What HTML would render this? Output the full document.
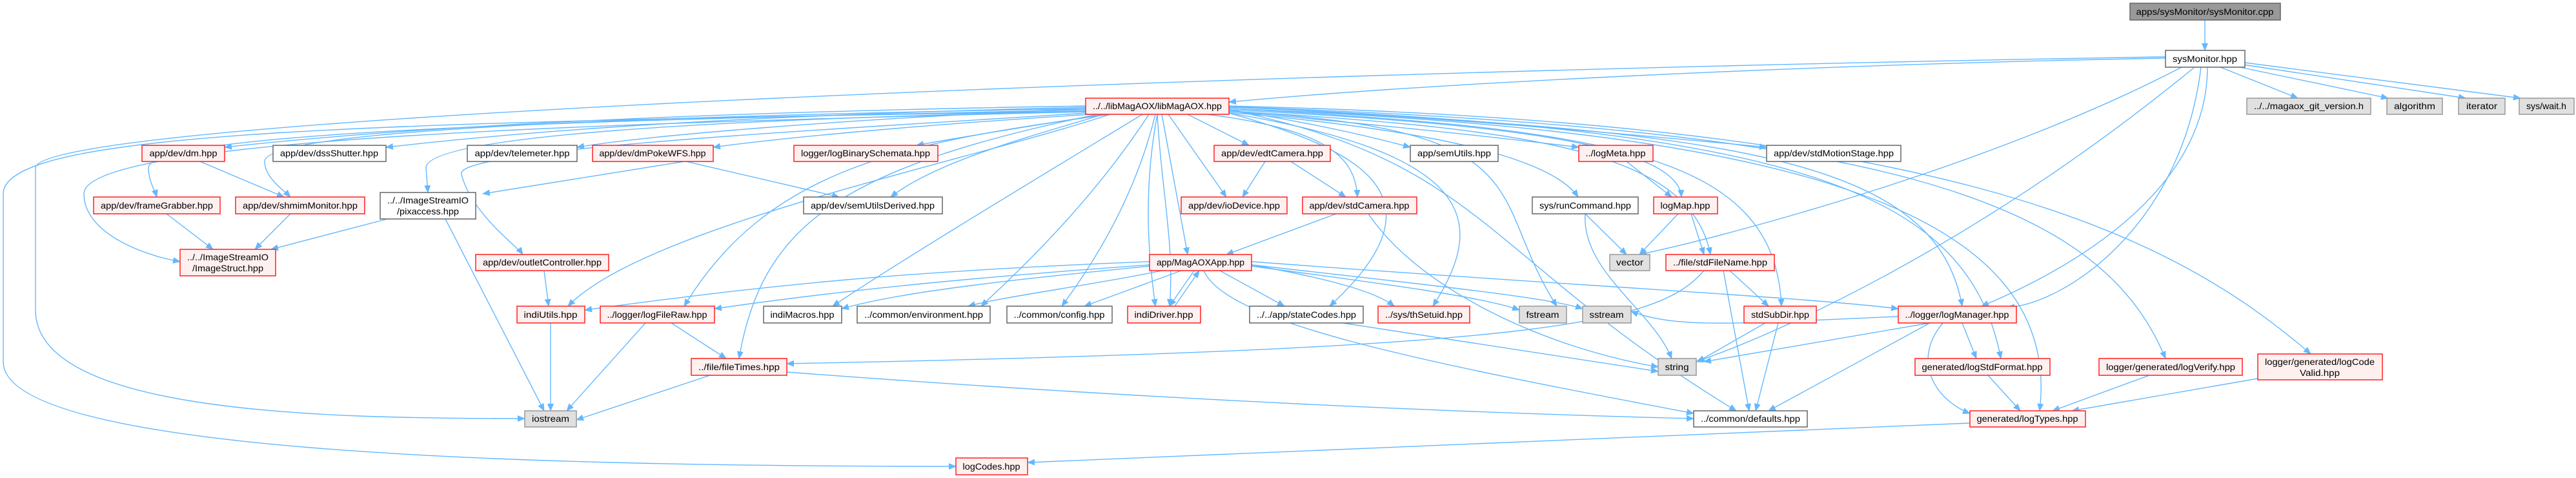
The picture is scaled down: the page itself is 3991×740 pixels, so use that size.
<!DOCTYPE html>
<html><head><meta charset="utf-8"><style>
html,body{margin:0;padding:0;background:#fff;}
svg{display:block;}
text{font-family:"Liberation Sans",sans-serif;font-size:14px;fill:#000;}
.e{fill:none;stroke:#63b8ff;stroke-width:1.4;}
.r{fill:#fff0f0;stroke:#ff2020;stroke-width:1.5;}
.w{fill:#fff;stroke:#666;stroke-width:1.5;}
.g{fill:#e0e0e0;stroke:#999;stroke-width:1.5;}
.d{fill:#999;stroke:#666;stroke-width:1.5;}
</style></head><body>
<svg width="3991" height="740" viewBox="0 0 3991 740" xmlns="http://www.w3.org/2000/svg">
<defs><marker id="a" markerWidth="12" markerHeight="10" refX="11" refY="5" orient="auto" markerUnits="userSpaceOnUse"><path d="M0,0 L12,5 L0,10 z" fill="#63b8ff"/></marker></defs>
<g class="e" marker-end="url(#a)">
<path d="M3416,31 L3416,78"/>
<path d="M3355,90 C2800,100 2200,130 1904,158"/>
<path d="M3440,104 L3560,152"/>
<path d="M3470,104 L3700,152"/>
<path d="M3475,100 L3820,152"/>
<path d="M3478,97 L3905,152"/>
<path d="M3380,104 C3100,250 2700,360 2540,394"/>
<path d="M3400,104 C3100,350 2800,500 2628,560"/>
<path d="M3420,104 C3420,300 3200,420 3070,474"/>
<path d="M3355,88 C2000,110 55,180 55,260 L55,480 C55,640 500,648 813,648"/>
<path d="M3410,104 C3380,350 3200,470 3110,476"/>
<path d="M1682,172 C600,190 5,200 5,300 L5,560 C5,700 800,722 1481,722"/>
<path d="M1682,164 C1000,175 600,200 348,228"/>
<path d="M1682,166 C1100,180 800,205 598,228"/>
<path d="M1682,168 C1300,185 1000,210 894,228"/>
<path d="M1690,177 C1400,195 1200,215 1105,228"/>
<path d="M1682,170 C1000,185 230,200 230,260 C230,280 240,295 243,305"/>
<path d="M1682,168 C1000,180 410,200 410,250 C410,275 440,295 450,305"/>
<path d="M1682,172 C1100,185 660,210 660,260 L663,298"/>
<path d="M1682,173 C1000,190 130,210 130,300 C130,360 220,395 279,405"/>
<path d="M1710,177 C1600,195 1500,210 1420,225"/>
<path d="M1710,177 C1600,210 1450,250 1380,305"/>
<path d="M1840,177 L1935,225"/>
<path d="M1810,177 L1900,305"/>
<path d="M1904,170 C2000,185 2100,205 2185,228"/>
<path d="M1904,172 C2100,190 2300,210 2446,228"/>
<path d="M1904,165 C2200,180 2500,205 2737,228"/>
<path d="M1870,177 C2050,200 2100,240 2103,305"/>
<path d="M1904,174 C2200,200 2400,240 2445,305"/>
<path d="M1904,170 C2300,190 2600,220 2605,305"/>
<path d="M1800,177 L1840,394"/>
<path d="M1682,175 C1300,200 700,230 715,270 C730,330 800,380 810,394"/>
<path d="M1720,177 C1500,250 1000,350 880,474"/>
<path d="M1720,177 C1400,220 1190,260 1060,474"/>
<path d="M1770,177 C1650,250 1400,400 1290,474"/>
<path d="M1780,177 C1700,300 1600,400 1520,474"/>
<path d="M1790,177 C1760,300 1700,400 1645,474"/>
<path d="M1793,177 C1770,300 1780,400 1790,474"/>
<path d="M1904,175 C2100,230 2250,300 2060,474"/>
<path d="M1904,175 C2300,240 2300,350 2220,474"/>
<path d="M1700,177 C1300,260 1180,350 1145,555"/>
<path d="M1904,172 C2400,200 2620,240 2650,394"/>
<path d="M1904,168 C2500,200 2750,240 2760,474"/>
<path d="M1904,172 C2400,200 2300,300 2412,474"/>
<path d="M1904,168 C2700,200 3000,250 3040,474"/>
<path d="M1904,166 C2800,200 3050,300 3100,555"/>
<path d="M1904,165 C2900,200 3250,300 3355,555"/>
<path d="M1904,164 C3000,190 3350,350 3580,548"/>
<path d="M1904,168 C2700,200 3200,300 3160,636"/>
<path d="M1904,170 C2300,250 2300,400 2690,636"/>
<path d="M1793,177 C1800,300 1820,380 1812,474"/>
<path d="M310,250 L440,305"/>
<path d="M1060,250 L748,300"/>
<path d="M1063,250 L1300,305"/>
<path d="M258,331 L330,386"/>
<path d="M450,331 L395,386"/>
<path d="M600,339 L420,386"/>
<path d="M690,339 L843,636"/>
<path d="M1960,250 L1925,305"/>
<path d="M2000,250 L2085,305"/>
<path d="M2070,331 L1900,394"/>
<path d="M2120,331 C2200,450 2400,540 2569,568"/>
<path d="M2520,250 L2590,305"/>
<path d="M2600,331 L2540,394"/>
<path d="M2620,331 L2640,394"/>
<path d="M2456,331 L2520,394"/>
<path d="M2456,331 C2450,420 2560,480 2590,555"/>
<path d="M843,419 L850,474"/>
<path d="M853,500 L853,636"/>
<path d="M1000,500 L878,636"/>
<path d="M1040,500 L1125,555"/>
<path d="M1100,581 L893,650"/>
<path d="M1219,576 C1800,620 2300,640 2624,648"/>
<path d="M1781,405 C1400,420 1200,440 906,480"/>
<path d="M1781,410 C1500,430 1300,450 1107,478"/>
<path d="M1781,412 C1600,430 1400,450 1304,478"/>
<path d="M1800,419 C1700,440 1550,460 1500,474"/>
<path d="M1830,419 L1680,474"/>
<path d="M1850,419 L1812,474"/>
<path d="M1820,474 L1858,419"/>
<path d="M1890,419 L1990,474"/>
<path d="M1939,410 C2050,430 2130,450 2160,474"/>
<path d="M1939,412 C2150,440 2300,460 2354,480"/>
<path d="M1939,410 C2200,440 2400,460 2452,478"/>
<path d="M1939,405 C2400,440 2800,460 2941,478"/>
<path d="M1865,419 C1900,500 2200,560 2624,640"/>
<path d="M2080,500 L2569,575"/>
<path d="M2640,419 C2570,500 2400,540 1219,563"/>
<path d="M2680,419 L2740,474"/>
<path d="M2670,419 L2710,636"/>
<path d="M2735,500 L2630,560"/>
<path d="M2755,500 L2720,636"/>
<path d="M2990,500 L2640,560"/>
<path d="M2990,500 L2740,636"/>
<path d="M3040,500 L3062,555"/>
<path d="M3010,500 C2960,560 3000,620 3052,640"/>
<path d="M3080,581 L3130,636"/>
<path d="M3330,581 L3180,636"/>
<path d="M3498,586 L3210,636"/>
<path d="M3052,655 C2500,680 2000,700 1592,716"/>
<path d="M2941,490 C2700,500 2600,510 2527,482"/>
</g>
<g>
<rect class="d" x="3300" y="5" width="233" height="26"/><text x="3416" y="23" text-anchor="middle" textLength="213" lengthAdjust="spacingAndGlyphs">apps/sysMonitor/sysMonitor.cpp</text>
<rect class="w" x="3355" y="78" width="123" height="26"/><text x="3416" y="96" text-anchor="middle" textLength="100" lengthAdjust="spacingAndGlyphs">sysMonitor.hpp</text>
<rect class="r" x="1682" y="152" width="222" height="25"/><text x="1793" y="169" text-anchor="middle" textLength="200" lengthAdjust="spacingAndGlyphs">../../libMagAOX/libMagAOX.hpp</text>
<rect class="g" x="3481" y="152" width="192" height="25"/><text x="3577" y="169" text-anchor="middle" textLength="170" lengthAdjust="spacingAndGlyphs">../../magaox_git_version.h</text>
<rect class="g" x="3698" y="152" width="86" height="25"/><text x="3741" y="169" text-anchor="middle" textLength="64" lengthAdjust="spacingAndGlyphs">algorithm</text>
<rect class="g" x="3809" y="152" width="72" height="25"/><text x="3845" y="169" text-anchor="middle" textLength="48" lengthAdjust="spacingAndGlyphs">iterator</text>
<rect class="g" x="3903" y="152" width="85" height="25"/><text x="3945" y="169" text-anchor="middle" textLength="62" lengthAdjust="spacingAndGlyphs">sys/wait.h</text>

<rect class="r" x="220" y="225" width="128" height="25"/><text x="284" y="242" text-anchor="middle" textLength="105" lengthAdjust="spacingAndGlyphs">app/dev/dm.hpp</text>
<rect class="w" x="423" y="225" width="175" height="25"/><text x="510" y="242" text-anchor="middle" textLength="152" lengthAdjust="spacingAndGlyphs">app/dev/dssShutter.hpp</text>
<rect class="w" x="724" y="225" width="170" height="25"/><text x="809" y="242" text-anchor="middle" textLength="147" lengthAdjust="spacingAndGlyphs">app/dev/telemeter.hpp</text>
<rect class="r" x="918" y="225" width="187" height="25"/><text x="1011" y="242" text-anchor="middle" textLength="165" lengthAdjust="spacingAndGlyphs">app/dev/dmPokeWFS.hpp</text>
<rect class="r" x="1230" y="225" width="223" height="25"/><text x="1341" y="242" text-anchor="middle" textLength="200" lengthAdjust="spacingAndGlyphs">logger/logBinarySchemata.hpp</text>
<rect class="r" x="1881" y="225" width="180" height="25"/><text x="1971" y="242" text-anchor="middle" textLength="158" lengthAdjust="spacingAndGlyphs">app/dev/edtCamera.hpp</text>
<rect class="w" x="2185" y="225" width="136" height="25"/><text x="2253" y="242" text-anchor="middle" textLength="114" lengthAdjust="spacingAndGlyphs">app/semUtils.hpp</text>
<rect class="r" x="2446" y="225" width="115" height="25"/><text x="2503" y="242" text-anchor="middle" textLength="93" lengthAdjust="spacingAndGlyphs">../logMeta.hpp</text>
<rect class="w" x="2737" y="225" width="208" height="25"/><text x="2841" y="242" text-anchor="middle" textLength="186" lengthAdjust="spacingAndGlyphs">app/dev/stdMotionStage.hpp</text>

<rect class="r" x="145" y="305" width="196" height="26"/><text x="243" y="323" text-anchor="middle" textLength="174" lengthAdjust="spacingAndGlyphs">app/dev/frameGrabber.hpp</text>
<rect class="r" x="365" y="305" width="200" height="26"/><text x="465" y="323" text-anchor="middle" textLength="178" lengthAdjust="spacingAndGlyphs">app/dev/shmimMonitor.hpp</text>
<rect class="w" x="589" y="298" width="148" height="41"/><text x="663" y="315" text-anchor="middle" textLength="126" lengthAdjust="spacingAndGlyphs">../../ImageStreamIO</text><text x="663" y="332" text-anchor="middle" textLength="96" lengthAdjust="spacingAndGlyphs">/pixaccess.hpp</text>
<rect class="w" x="1245" y="305" width="215" height="26"/><text x="1352" y="323" text-anchor="middle" textLength="192" lengthAdjust="spacingAndGlyphs">app/dev/semUtilsDerived.hpp</text>
<rect class="r" x="1830" y="305" width="164" height="26"/><text x="1912" y="323" text-anchor="middle" textLength="142" lengthAdjust="spacingAndGlyphs">app/dev/ioDevice.hpp</text>
<rect class="r" x="2018" y="305" width="177" height="26"/><text x="2106" y="323" text-anchor="middle" textLength="155" lengthAdjust="spacingAndGlyphs">app/dev/stdCamera.hpp</text>
<rect class="w" x="2374" y="305" width="164" height="26"/><text x="2456" y="323" text-anchor="middle" textLength="142" lengthAdjust="spacingAndGlyphs">sys/runCommand.hpp</text>
<rect class="r" x="2562" y="305" width="99" height="26"/><text x="2611" y="323" text-anchor="middle" textLength="77" lengthAdjust="spacingAndGlyphs">logMap.hpp</text>

<rect class="r" x="279" y="386" width="148" height="41"/><text x="353" y="403" text-anchor="middle" textLength="126" lengthAdjust="spacingAndGlyphs">../../ImageStreamIO</text><text x="353" y="420" text-anchor="middle" textLength="110" lengthAdjust="spacingAndGlyphs">/ImageStruct.hpp</text>
<rect class="r" x="737" y="394" width="206" height="25"/><text x="840" y="411" text-anchor="middle" textLength="184" lengthAdjust="spacingAndGlyphs">app/dev/outletController.hpp</text>
<rect class="r" x="1781" y="394" width="158" height="25"/><text x="1860" y="411" text-anchor="middle" textLength="136" lengthAdjust="spacingAndGlyphs">app/MagAOXApp.hpp</text>
<rect class="g" x="2494" y="394" width="62" height="25"/><text x="2525" y="411" text-anchor="middle" textLength="42" lengthAdjust="spacingAndGlyphs">vector</text>
<rect class="r" x="2581" y="394" width="168" height="25"/><text x="2665" y="411" text-anchor="middle" textLength="146" lengthAdjust="spacingAndGlyphs">../file/stdFileName.hpp</text>

<rect class="r" x="801" y="474" width="105" height="26"/><text x="853" y="492" text-anchor="middle" textLength="83" lengthAdjust="spacingAndGlyphs">indiUtils.hpp</text>
<rect class="r" x="930" y="474" width="177" height="26"/><text x="1018" y="492" text-anchor="middle" textLength="155" lengthAdjust="spacingAndGlyphs">../logger/logFileRaw.hpp</text>
<rect class="w" x="1183" y="474" width="121" height="26"/><text x="1243" y="492" text-anchor="middle" textLength="99" lengthAdjust="spacingAndGlyphs">indiMacros.hpp</text>
<rect class="w" x="1328" y="474" width="206" height="26"/><text x="1431" y="492" text-anchor="middle" textLength="184" lengthAdjust="spacingAndGlyphs">../common/environment.hpp</text>
<rect class="w" x="1560" y="474" width="163" height="26"/><text x="1641" y="492" text-anchor="middle" textLength="141" lengthAdjust="spacingAndGlyphs">../common/config.hpp</text>
<rect class="r" x="1747" y="474" width="113" height="26"/><text x="1803" y="492" text-anchor="middle" textLength="91" lengthAdjust="spacingAndGlyphs">indiDriver.hpp</text>
<rect class="w" x="1936" y="474" width="176" height="26"/><text x="2024" y="492" text-anchor="middle" textLength="154" lengthAdjust="spacingAndGlyphs">../../app/stateCodes.hpp</text>
<rect class="r" x="2135" y="474" width="142" height="26"/><text x="2206" y="492" text-anchor="middle" textLength="120" lengthAdjust="spacingAndGlyphs">../sys/thSetuid.hpp</text>
<rect class="g" x="2354" y="474" width="73" height="26"/><text x="2390" y="492" text-anchor="middle" textLength="51" lengthAdjust="spacingAndGlyphs">fstream</text>
<rect class="g" x="2452" y="474" width="75" height="26"/><text x="2489" y="492" text-anchor="middle" textLength="53" lengthAdjust="spacingAndGlyphs">sstream</text>
<rect class="r" x="2702" y="474" width="112" height="26"/><text x="2758" y="492" text-anchor="middle" textLength="90" lengthAdjust="spacingAndGlyphs">stdSubDir.hpp</text>
<rect class="r" x="2941" y="474" width="183" height="26"/><text x="3032" y="492" text-anchor="middle" textLength="161" lengthAdjust="spacingAndGlyphs">../logger/logManager.hpp</text>

<rect class="r" x="1071" y="555" width="148" height="26"/><text x="1145" y="573" text-anchor="middle" textLength="126" lengthAdjust="spacingAndGlyphs">../file/fileTimes.hpp</text>
<rect class="g" x="2569" y="555" width="59" height="26"/><text x="2598" y="573" text-anchor="middle" textLength="37" lengthAdjust="spacingAndGlyphs">string</text>
<rect class="r" x="2967" y="555" width="209" height="26"/><text x="3071" y="573" text-anchor="middle" textLength="187" lengthAdjust="spacingAndGlyphs">generated/logStdFormat.hpp</text>
<rect class="r" x="3252" y="555" width="222" height="26"/><text x="3363" y="573" text-anchor="middle" textLength="200" lengthAdjust="spacingAndGlyphs">logger/generated/logVerify.hpp</text>
<rect class="r" x="3498" y="548" width="193" height="40"/><text x="3594" y="565" text-anchor="middle" textLength="170" lengthAdjust="spacingAndGlyphs">logger/generated/logCode</text><text x="3594" y="582" text-anchor="middle" textLength="62" lengthAdjust="spacingAndGlyphs">Valid.hpp</text>

<rect class="g" x="813" y="636" width="80" height="25"/><text x="853" y="653" text-anchor="middle" textLength="58" lengthAdjust="spacingAndGlyphs">iostream</text>
<rect class="w" x="2624" y="636" width="176" height="25"/><text x="2712" y="653" text-anchor="middle" textLength="154" lengthAdjust="spacingAndGlyphs">../common/defaults.hpp</text>
<rect class="r" x="3052" y="636" width="179" height="25"/><text x="3141" y="653" text-anchor="middle" textLength="157" lengthAdjust="spacingAndGlyphs">generated/logTypes.hpp</text>
<rect class="r" x="1481" y="709" width="111" height="26"/><text x="1536" y="727" text-anchor="middle" textLength="89" lengthAdjust="spacingAndGlyphs">logCodes.hpp</text>
</g>
</svg>
</body></html>
